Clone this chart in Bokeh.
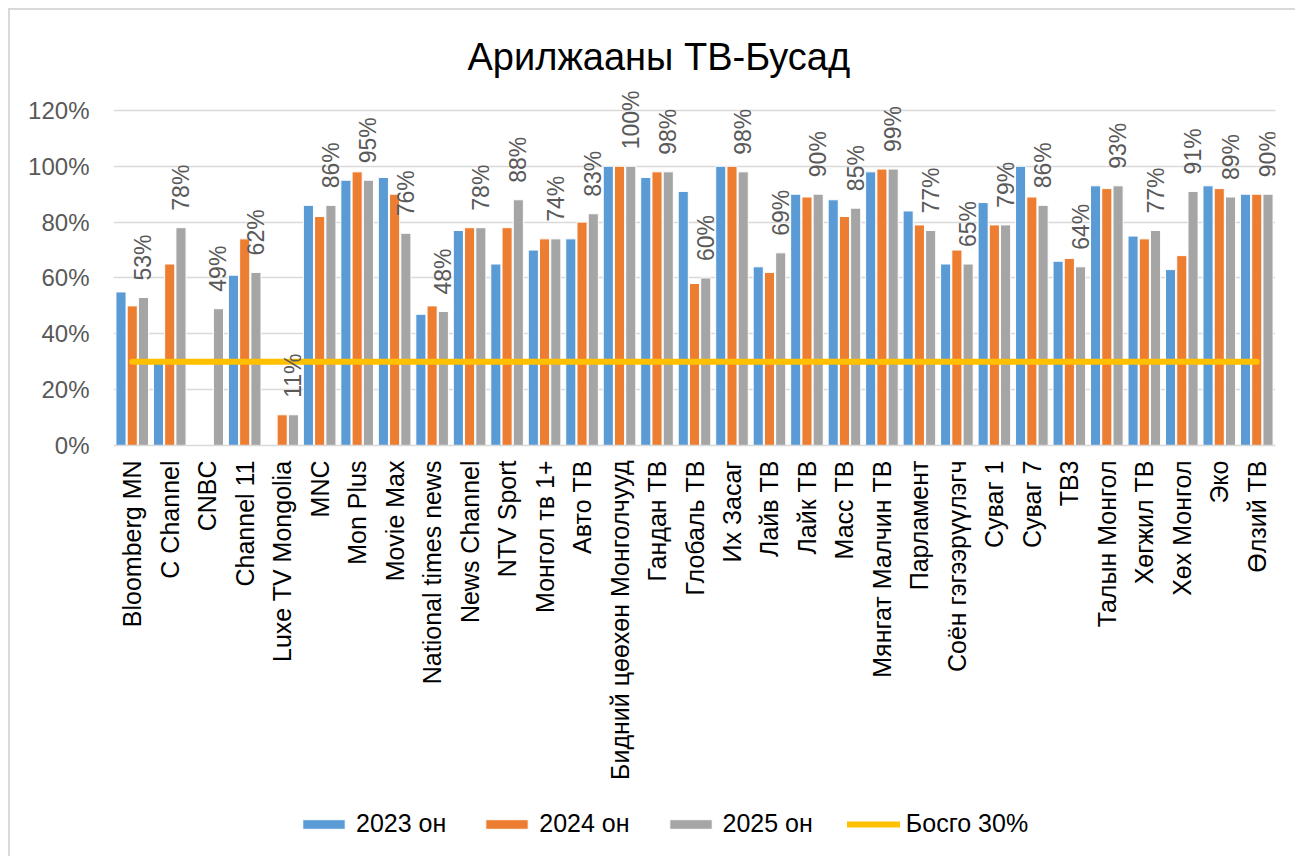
import math
from bokeh.plotting import figure
from bokeh.layouts import column
from bokeh.models import (ColumnDataSource, FactorRange, Range1d, FixedTicker,
                          NumeralTickFormatter, Legend, LegendItem)
from bokeh.transform import dodge
from bokeh.core.properties import value
from bokeh.embed import file_html
from bokeh.resources import INLINE

nan = float("nan")

categories = [
    "Bloomberg MN", "C Channel", "CNBC", "Channel 11", "Luxe TV Mongolia", "MNC",
    "Mon Plus", "Movie Max", "National times news", "News Channel", "NTV Sport",
    "Монгол тв 1+", "Авто ТВ", "Бидний цөөхөн Монголчууд", "Гандан ТВ", "Глобаль ТВ",
    "Их Засаг", "Лайв ТВ", "Лайк ТВ", "Масс ТВ", "Мянгат Малчин ТВ", "Парламент",
    "Соён гэгээрүүлэгч", "Суваг 1", "Суваг 7", "ТВ3", "Талын Монгол", "Хөгжил ТВ",
    "Хөх Монгол", "Эко", "Өлзий ТВ",
]
# percent values
y2023 = [55, 30, nan, 61, nan, 86, 95, 96, 47, 77, 65, 70, 74, 100, 96, 91,
         100, 64, 90, 88, 98, 84, 65, 87, 100, 66, 93, 75, 63, 93, 90]
y2024 = [50, 65, nan, 74, 11, 82, 98, 90, 50, 78, 78, 74, 80, 100, 98, 58,
         100, 62, 89, 82, 99, 79, 70, 79, 89, 67, 92, 74, 68, 92, 90]
y2025 = [53, 78, 49, 62, 11, 86, 95, 76, 48, 78, 88, 74, 83, 100, 98, 60,
         98, 69, 90, 85, 99, 77, 65, 79, 86, 64, 93, 77, 91, 89, 90]
threshold_pct = 30

series_names = ["2023 он", "2024 он", "2025 он", "Босго 30%"]
colors = ["#5B9BD5", "#ED7D31", "#A5A5A5", "#FFC000"]
y_ticks = [0, 0.2, 0.4, 0.6, 0.8, 1.0, 1.2]

src = ColumnDataSource(dict(
    cat=categories,
    a=[v / 100 for v in y2023],
    b=[v / 100 for v in y2024],
    c=[v / 100 for v in y2025],
    thr=[threshold_pct / 100 for _ in categories],
    lab=[f"{v:.0f}%" for v in y2025],
))

FONT = "Liberation Sans"
W = 1285

p = figure(x_range=FactorRange(*categories, range_padding=0),
           y_range=Range1d(0, 1.3),
           frame_width=1162, frame_height=363,
           output_backend="svg", toolbar_location=None,
           min_border_left=103, min_border_right=19,
           min_border_top=72, min_border_bottom=340)
p.outline_line_color = None
p.background_fill_color = "white"
p.border_fill_color = "white"

p.title.text = "Арилжааны ТВ-Бусад"
p.title.align = "left"
p.title.offset = 354
p.title.text_font = FONT
p.title.text_font_size = "38px"
p.title.text_font_style = "normal"
p.title.text_color = "#000000"
p.title.standoff = 9

bw = 0.27
p.vbar(x=dodge("cat", -0.3, range=p.x_range), top="a", width=bw, source=src,
       fill_color=colors[0], line_color="white", line_width=1)
p.vbar(x=dodge("cat", 0.0, range=p.x_range), top="b", width=bw, source=src,
       fill_color=colors[1], line_color="white", line_width=1)
p.vbar(x=dodge("cat", 0.3, range=p.x_range), top="c", width=bw, source=src,
       fill_color=colors[2], line_color="white", line_width=1)
p.line(x="cat", y="thr", source=src, line_color=colors[3], line_width=6,
       line_cap="round")

p.text(x=dodge("cat", 0.3, range=p.x_range), y="c", text="lab", source=src,
       angle=math.pi / 2, text_align="left", text_baseline="middle",
       y_offset=-17, text_font=value(FONT), text_font_size="23px",
       text_color="#595959")

p.yaxis.ticker = FixedTicker(ticks=y_ticks)
p.yaxis.formatter = NumeralTickFormatter(format="0%")
p.yaxis.axis_line_color = None
p.yaxis.major_tick_line_color = None
p.yaxis.minor_tick_line_color = None
p.yaxis.major_label_text_font = FONT
p.yaxis.major_label_text_font_size = "24px"
p.yaxis.major_label_text_color = "#595959"
p.yaxis.major_label_standoff = 18

p.xaxis.axis_line_color = "#D9D9D9"
p.xaxis.axis_line_width = 1.5
p.xaxis.major_tick_line_color = None
p.xaxis.minor_tick_line_color = None
p.xaxis.major_label_orientation = math.pi / 2
p.xaxis.major_label_text_font = FONT
p.xaxis.major_label_text_font_size = "25px"
p.xaxis.major_label_text_color = "#000000"
p.xaxis.major_label_standoff = 9

p.xgrid.grid_line_color = None
p.ygrid.grid_line_color = "#D9D9D9"
p.ygrid.grid_line_width = 1.5

# legend strip (separate figure so that the legend is not clipped)
lg = figure(width=W, height=846 - (72 + 363 + 340), x_range=(0, 1), y_range=(0, 1),
            output_backend="svg", toolbar_location=None,
            x_axis_type=None, y_axis_type=None, min_border=0)
lg.outline_line_color = None
lg.grid.visible = False
k1 = lg.vbar(x=[nan], top=[nan], width=1, fill_color=colors[0], line_color="white")
k2 = lg.vbar(x=[nan], top=[nan], width=1, fill_color=colors[1], line_color="white")
k3 = lg.vbar(x=[nan], top=[nan], width=1, fill_color=colors[2], line_color="white")
k4 = lg.line(x=[nan], y=[nan], line_color=colors[3], line_width=6, line_cap="round")

legend = Legend(items=[
    LegendItem(label=series_names[0], renderers=[k1]),
    LegendItem(label=series_names[1], renderers=[k2]),
    LegendItem(label=series_names[2], renderers=[k3]),
    LegendItem(label=series_names[3], renderers=[k4]),
], orientation="horizontal", location=(184, 18),
    label_text_font=FONT, label_text_font_size="25px", label_text_color="#000000",
    glyph_width=53, glyph_height=12, label_standoff=6, spacing=34,
    border_line_color=None, background_fill_alpha=0, padding=0, margin=0)
lg.add_layout(legend, "center")

layout = column(p, lg, spacing=0)
layout.styles = {"margin-left": "8px", "margin-top": "8px",
                 "border-left": "2px solid #D9D9D9", "border-top": "2px solid #D9D9D9"}

open("out.html", "w").write(file_html(layout, INLINE))
